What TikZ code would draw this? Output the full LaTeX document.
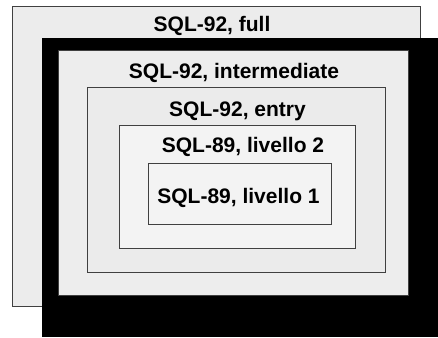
\documentclass[tikz,border=0pt]{standalone}
\usepackage{fontspec}
\setmainfont{Liberation Sans}
\begin{document}
\begin{tikzpicture}[x=1pt,y=-1pt,
  level/.style={draw=black!75, line width=0.9pt, inner sep=0pt, outer sep=0pt},
  lbl/.style={anchor=base, inner sep=0pt, font=\fontsize{21}{24}\selectfont\bfseries},
  shade/.style={fill=black, draw=none}]
\definecolor{fullgray}{HTML}{ECECEC}
\definecolor{midgray}{HTML}{EDEDED}
\definecolor{entrygray}{HTML}{EBEBEB}
\definecolor{innergray}{HTML}{F3F3F3}
\useasboundingbox[fill=white] (0,0) rectangle (438,337);
% SQL-92 full
\draw[level, fill=fullgray] (12,6) rectangle (420,306);
\node[lbl] (full) at (212,32) {SQL-92, full};
% heavy black frame behind the intermediate level
\fill[shade] (42,38) rectangle (438,337);
\draw[level, fill=midgray] (58,50) rectangle (408,295);
\node[lbl] (inter) at (234,78) {SQL-92, intermediate};
% SQL-92 entry
\draw[level, fill=entrygray] (87,87) rectangle (385,272);
\node[lbl] (entry) at (237.5,116) {SQL-92, entry};
% SQL-89 level 2
\draw[level, fill=innergray] (119,125) rectangle (355,248);
\node[lbl] (lv2) at (243,152) {SQL-89, livello 2};
% SQL-89 level 1
\draw[level, fill=innergray] (148,163) rectangle (331,224);
\node[lbl] (lv1) at (238.5,203) {SQL-89, livello 1};
\end{tikzpicture}
\end{document}
